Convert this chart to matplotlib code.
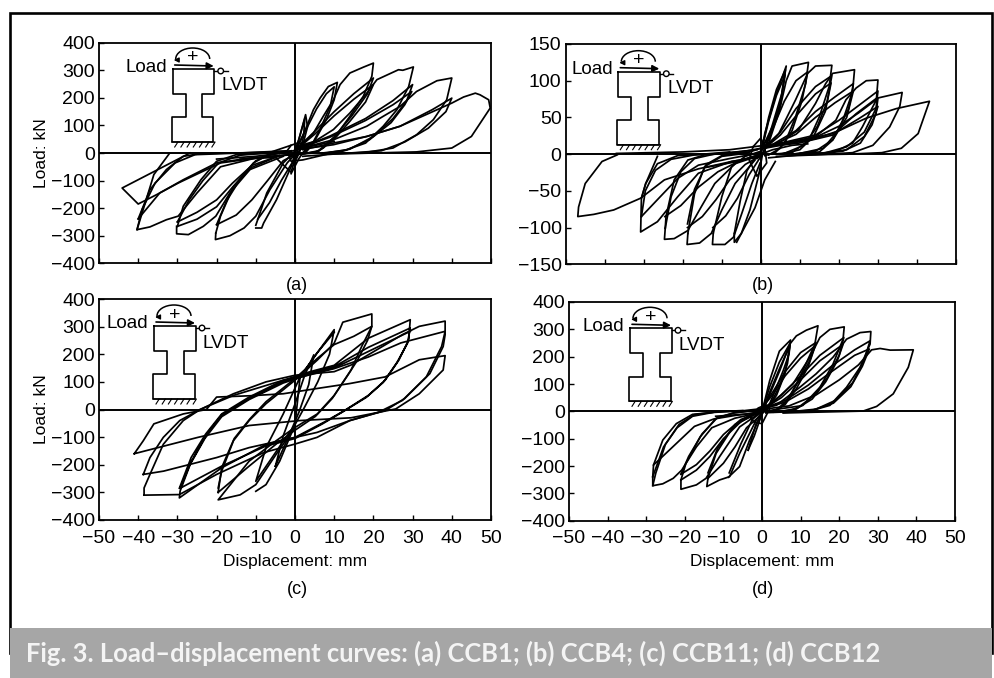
import matplotlib
matplotlib.use('Agg')
import matplotlib.pyplot as plt
from matplotlib.patches import Rectangle, Circle, Arc

plt.rcParams['font.family'] = ['Liberation Sans', 'DejaVu Sans']

# curves, each one a (displacement, load) path
loops_a = [
    [(0.4, 12), (9.8, 30), (18.3, 60), (26.8, 97), (35.3, 151), (40, 181), (43, 203), (46, 217), (47.2, 211), (49.4, 193), (49.8, 163), (45, 60), (40, 18), (31, 4), (22.5, 1), (9.8, -4), (2, -12)],
    [(1, 15), (9.8, 48), (18.3, 97), (22.5, 133), (26.8, 169), (31, 223), (36.2, 262), (40, 272), (38.7, 193), (35.3, 121), (31, 66), (25, 18), (18, 2), (9.8, -3)],
    [(2, 12), (9.8, 36), (18.3, 60), (26.8, 97), (35, 157), (40, 199), (38.5, 150), (34, 90), (28, 40), (22, 8), (14, 0)],
    [(0.8, 18), (5, 42), (9.8, 85), (14, 145), (18.3, 217), (20.9, 266), (26.4, 302), (27.5, 300), (30.2, 312), (29, 241), (26, 157), (22.5, 97), (18, 36), (12, 6), (7, -2)],
    [(1, 16), (9, 62), (18, 125), (25, 190), (30, 248), (28.5, 190), (25, 125), (20, 60), (14, 14), (8, 0)],
    [(1, 16), (9, 58), (18, 118), (25, 175), (29.8, 223), (28, 175), (24.5, 110), (19, 48), (13, 10), (7, 0)],
    [(0.8, 18), (4.7, 72), (7.2, 133), (9.8, 193), (11.5, 248), (14, 290), (17.4, 311), (20, 326), (19.6, 278), (17.4, 205), (14, 133), (10.6, 66), (7.2, 18), (4.7, 0), (1, -5)],
    [(0.5, 16), (5, 78), (10, 150), (15, 215), (20, 272), (18.5, 215), (14.5, 135), (10, 58), (6, 8), (2, -3)],
    [(0.5, 14), (5, 68), (10, 135), (15, 195), (20, 248), (18, 185), (14, 115), (10, 50), (6, 6), (2, -3)],
    [(0.8, 24), (3, 97), (4.7, 157), (6.4, 199), (8.5, 241), (10.8, 256), (10, 193), (8, 121), (4.7, 36), (3, 6), (0.5, -6)],
    [(0.4, 20), (3, 90), (5.5, 160), (8, 215), (10, 240), (9, 170), (6.5, 90), (4, 22), (1.5, -5)],
    [(-0.5, -10), (1, 50), (2.7, 139), (3.2, 95), (2, 30), (0.5, -15)],
    [(-0.4, -30), (0.8, 40), (2.5, 125), (2.2, 60), (1, 0), (-0.4, -45)],
    [(-26.8, 0), (-44.1, -127), (-40, -185), (-35.3, -151), (-29.8, -109), (-19, -36), (-8, -15), (-0.5, -5)],
    [(-32, -1), (-36, -78), (-40.3, -278), (-37, -268), (-32.8, -242), (-29.8, -229), (-25, -145), (-19, -50), (-10, -18), (-0.5, -5)],
    [(-40, -239), (-37, -133), (-32.8, -60), (-28.5, -12), (-24, -2), (-12, 1), (-1, 6)],
    [(-40.3, -278), (-39, -205), (-35.7, -109), (-30.6, -36), (-25.5, -6), (-14, 0), (-2, 8)],
    [(-40, -239), (-34.5, -145), (-28.5, -97), (-20, -36), (-11.5, -18), (-0.4, -6)],
    [(-30.2, -266), (-30.2, -293), (-27.2, -296), (-23.4, -266), (-20.2, -229), (-16.6, -145), (-11.5, -60), (-3, -12)],
    [(-30, -266), (-28.5, -193), (-24, -97), (-20, -30), (-15, -6), (-7, 0), (-1, 6)],
    [(-30, -250), (-27, -170), (-23.5, -100), (-19.5, -36), (-14, -8), (-7, 0)],
    [(-30, -250), (-25, -215), (-20, -170), (-16, -110), (-11, -45), (-4, -10)],
    [(-30, -266), (-25, -240), (-20, -195), (-16, -125), (-11, -52), (-4, -10)],
    [(-20.2, -290), (-20.3, -314), (-16.6, -300), (-13, -272), (-10, -229), (-6.4, -133), (-2, -36), (0, -5)],
    [(-20.2, -290), (-19, -229), (-15.7, -121), (-10.6, -36), (-7, -8), (-1, 6)],
    [(-20, -260), (-17.5, -175), (-14, -95), (-10, -28), (-6, -5), (-1, 8)],
    [(-20, -260), (-15, -225), (-11, -170), (-7, -100), (-3, -28), (0, -5)],
    [(-10, -272), (-8.5, -272), (-8, -254), (-4.7, -169), (-1, -50), (0.5, 20)],
    [(-10, -262), (-7.2, -145), (-3, -36), (-1, -8), (1, 22)],
    [(-9.5, -240), (-6.5, -180), (-3.5, -100), (-0.5, -30), (1, 20)],
    [(-14, -22), (-5, -16), (-1, -70), (0, -20), (2, 30), (5, 42)],
    [(-6, 4), (-1, 28), (1, 38), (3, 20), (1, -20), (-1, -75)],
    [(-1, 28), (-2, 8), (-1, -30), (2, -25), (8, -5)],
    [(-20, -22), (-10, -12), (-2, 2), (2, 18), (10, 42)],
]

loops_b = [
    [(-37, 1), (-20, 3), (-8, 6), (1, 12), (9.7, 18), (18.4, 28), (27, 49), (34.7, 62), (43.2, 72), (40.3, 28), (36, 8), (31, 2), (22.4, 0), (10, -1), (2, -5)],
    [(1, 10), (9.7, 15), (18.4, 26), (24.4, 55), (29.6, 76), (36.2, 84), (35.6, 65), (33, 37), (28.7, 12), (23.5, 2), (14, -1), (4, -3)],
    [(0.5, 8), (14, 24), (19.2, 46), (21.8, 74), (24.4, 90), (27, 100), (30, 101), (29.6, 74), (26, 37), (23.5, 15), (18.4, 2), (10, 0)],
    [(1, 10), (14, 26), (20, 46), (25, 66), (30, 86), (29.5, 62), (26.5, 30), (22, 10), (16, 1), (8, 0)],
    [(1, 9), (14, 23), (20, 38), (25, 56), (30, 76), (29.5, 55), (26.5, 24), (22, 6), (15, 1)],
    [(1, 8), (14, 21), (20, 32), (25, 48), (30, 65), (28.5, 40), (25.5, 15), (21, 4), (14, 0)],
    [(3.7, 12), (9.7, 33), (14, 69), (16.6, 96), (18.4, 110), (24, 115), (23.5, 85), (21, 46), (18.4, 19), (15, 3), (8, 0)],
    [(2, 10), (9, 32), (14, 58), (19, 78), (23.7, 96), (22.5, 62), (19.5, 30), (16, 8), (10, 1)],
    [(2, 10), (9, 27), (14, 50), (19, 70), (23.7, 86), (22, 50), (18.5, 20), (14, 4), (8, 0)],
    [(1, 10), (4.6, 28), (8.9, 74), (12, 110), (14, 120), (18.2, 121), (17.5, 92), (15, 51), (12.3, 19), (8, 2), (3, 0)],
    [(1, 8), (5, 30), (9, 62), (14, 92), (18.2, 107), (17, 72), (14.5, 38), (11, 12), (6, 1)],
    [(1, 8), (5, 26), (9, 52), (14, 82), (18, 97), (16.5, 58), (13.5, 24), (10, 6), (5, 0)],
    [(0.7, 12), (3, 38), (5, 65), (6.5, 100), (8, 120), (12.2, 125), (11.5, 96), (8.9, 51), (6.3, 17), (3.7, 2), (1, -2)],
    [(0.5, 10), (3, 34), (6, 72), (9, 100), (12, 112), (10.5, 72), (8, 32), (5, 8), (2, -1)],
    [(0.3, 6), (1, 28), (3.7, 78), (6.5, 120), (5.4, 83), (2.8, 37), (0.7, 3), (-1, -6)],
    [(0.3, 8), (2, 50), (4, 88), (6.3, 115), (5, 70), (2.4, 25), (0.4, 0)],
    [(0.2, 6), (2, 45), (4, 80), (6.2, 108), (4.8, 60), (2, 15), (0, -3)],
    [(-36.8, -1), (-40.7, -10), (-45, -40), (-46.7, -72), (-46.9, -85), (-42.8, -82), (-37.7, -76), (-30.8, -60), (-24.7, -35), (-16, -20), (-7.5, -10), (-0.6, -4)],
    [(-26.5, -3), (-29.5, -40), (-30.6, -60), (-30.8, -106), (-26.5, -92), (-21.3, -58), (-16, -26), (-7.5, -10), (0, -3)],
    [(-30.6, -60), (-29.5, -40), (-26.5, -13), (-21.3, -2), (-10, 1), (-1, 6)],
    [(-30.6, -85), (-26.5, -62), (-21.3, -33), (-16, -15), (-8, -6), (0, 2)],
    [(-30.6, -85), (-29.6, -50), (-27, -22), (-23, -7), (-17, -1), (-8, 3)],
    [(-24.5, -101), (-24.7, -116), (-22.2, -115), (-18.7, -104), (-15.3, -72), (-11.8, -40), (-6.6, -13), (-1, -3)],
    [(-24.5, -101), (-24.3, -85), (-22.2, -35), (-18.7, -8), (-14.4, -1), (-6, 2), (0, 8)],
    [(-24.6, -85), (-20.5, -70), (-16, -45), (-11, -24), (-5, -8), (0, 0)],
    [(-24.5, -101), (-23, -58), (-20.5, -24), (-17, -6), (-12, 0), (-4, 4)],
    [(-18.7, -108), (-18.9, -123), (-15.7, -121), (-12.7, -108), (-10, -76), (-6.6, -40), (-1.5, -8)],
    [(-18.7, -108), (-17, -54), (-14.4, -17), (-10, -3), (-4, 1), (0, 8)],
    [(-18.8, -100), (-15, -85), (-11.5, -62), (-8, -35), (-4, -14), (0, -2)],
    [(-18.8, -95), (-17, -48), (-14, -14), (-10, -2), (-3, 3)],
    [(-12.2, -108), (-12.4, -123), (-9.2, -123), (-7, -113), (-4.9, -81), (-2.3, -40), (-0.2, -12)],
    [(-12.2, -108), (-10, -58), (-7.5, -17), (-4, -3), (0, 4)],
    [(-12.3, -100), (-9, -84), (-6, -60), (-3, -28), (0, -3)],
    [(-6.8, -108), (-6.8, -120), (-5, -108), (-2.8, -76), (-0.6, -30), (0.5, 2)],
    [(-6.8, -108), (-5.3, -64), (-3.6, -23), (-1.5, -5), (1, 10)],
    [(3.7, -10), (1, -35), (-1.5, -73), (-6.2, -120)],
    [(-2, 10), (0, 22), (1, 10), (1.5, -12), (-1, -30), (-3, -8), (-2, 10)],
    [(-14, -18), (-6, -10), (-1, -2), (3, 6), (8, 12), (12, 14)],
]

loops_c = [
    [(-38.5, -310), (-38.5, -284), (-37, -235), (-33.6, -126), (-28.5, -40), (-24.2, 0), (-15.7, 57), (-7.4, 100), (0, 124), (10, 137), (14.3, 161), (18.7, 198), (23, 234), (27.4, 271), (31.7, 301), (38.3, 320), (38.3, 271), (37.8, 228), (34.4, 130), (28, 40), (23, -4), (14, -40), (5.6, -101), (0, -125), (-8, -156), (-20, -235), (-29.5, -308), (-38.5, -310)],
    [(-38.7, -235), (-37, -174), (-33.6, -101), (-29.4, -40), (-24.2, 0), (-15.7, 51), (-3, 106), (0, 112), (10, 148), (18.7, 190), (27, 241), (38.3, 283), (37.4, 228), (33.5, 118), (27.4, 33), (21.3, -10), (14, -40), (5.6, -83), (0, -101), (-11.7, -138), (-20, -174), (-33.5, -223), (-38.7, -235)],
    [(-41, -160), (-38.7, -113), (-36, -52), (-28.5, -16), (-22.6, 0), (-20, 45), (-11, 50), (-3, 57), (5.6, 76), (14, 94), (23, 118), (31.7, 180), (38.3, 195), (37.8, 143), (31.7, 57), (25.7, 2), (14.3, -30), (1.3, -40), (-11.7, -58), (-24.8, -101), (-41, -160)],
    [(-29.5, -285), (-26.5, -174), (-22.8, -89), (-18.7, -16), (-11.7, 45), (-3, 106), (3.9, 137), (10, 160), (18.7, 258), (29.4, 325), (29, 252), (26.5, 179), (23, 106), (18.7, 51), (12.6, -4), (7.4, -46), (0, -101), (-7.4, -126), (-18.7, -211), (-29.5, -320), (-29.3, -295), (-26.5, -190), (-22.8, -95), (-18.7, -20), (-11.7, 40), (-3, 100), (3.9, 132), (10, 155), (18.7, 225), (29.4, 295), (28.7, 240), (26, 170), (22.5, 98), (18.2, 44), (12, -10), (7, -52), (0, -105), (-7.4, -132), (-18.7, -205), (-29.3, -285), (-27, -205), (-23, -105), (-18.7, -26), (-11.7, 36), (-3, 96), (3.9, 128), (10, 150), (18.7, 210), (29.4, 283)],
    [(-19.6, -284), (-18.7, -223), (-15.7, -113), (-11.7, -40), (-7.4, 21), (0, 106), (5.7, 179), (10, 240), (12.2, 316), (19.6, 346), (19.6, 301), (17, 228), (14.3, 143), (10, 51), (5.7, -16), (0, -65), (-4.8, -113), (-11.7, -187), (-19.6, -327), (-14, -309), (-10, -272), (-4.8, -162), (0, -65)],
    [(-19.6, -300), (-18.7, -210), (-15.5, -105), (-11.5, -34), (-7.4, 28), (0, 112), (5.7, 185), (10, 235), (15, 265), (19.6, 301), (18.5, 250), (16, 180), (13.5, 125), (9.5, 40), (5.2, -25), (0, -75), (-4.8, -125), (-11.7, -205), (-19.6, -300)],
    [(-10, -296), (-7.4, -272), (-3.9, -187), (0, -55), (1.3, 118), (5.6, 204), (10, 289), (8.8, 200), (5.8, 100), (2.5, 10), (0, -55), (-3, -115), (-10, -260), (-7.4, -138), (-3, -16), (1.3, 118), (5.6, 204), (10, 280)],
    [(-5, -205), (-3, -95), (0, 20), (2.5, 125), (4.8, 198), (3.5, 90), (1, -10), (-2, -110), (-5, -205)],
]

loops_d = [
    [(-1, 5), (7, 20), (14, 60), (20, 115), (25, 170), (28.4, 225), (30.6, 230), (33.2, 224), (39.2, 225), (37.9, 161), (34, 64), (29.7, 18), (26.2, 1), (14, -3), (5.5, -6)],
    [(1, 15), (3.7, 22), (9.8, 88), (14, 137), (18.4, 198), (21.9, 264), (25.4, 288), (28.2, 292), (28, 246), (25.4, 161), (21.9, 88), (17.6, 22), (12.4, 1), (5.5, -4)],
    [(0.5, 12), (6, 40), (12, 96), (18, 165), (24, 225), (28, 258), (26.5, 190), (23.5, 105), (19, 40), (14, 8), (7, -2)],
    [(0.5, 10), (6, 34), (12, 82), (18, 145), (24, 205), (27.8, 228), (26, 165), (23, 90), (18.5, 30), (13, 4), (6, -3)],
    [(1, 8), (8, 100), (12.4, 198), (15, 270), (17.6, 300), (21.3, 309), (21, 264), (18.4, 173), (15, 88), (10.6, 22), (6.3, -2), (1, -5)],
    [(0.5, 12), (5, 60), (10, 130), (15, 205), (21.2, 270), (20, 205), (17, 125), (13.5, 58), (9, 10), (4, -2)],
    [(0.5, 10), (5, 50), (10, 115), (15, 185), (21, 245), (19.5, 185), (16.5, 108), (13, 45), (8.5, 6), (3, -3)],
    [(0.6, 15), (4.6, 149), (7.2, 246), (8.9, 276), (11.5, 297), (14.5, 313), (13.7, 246), (10.6, 149), (7.2, 52), (4.6, 10), (1, -5)],
    [(0.4, 20), (3, 75), (6, 145), (10, 215), (14, 252), (12.5, 190), (9.5, 110), (6.3, 38), (3.5, 2)],
    [(0.3, 18), (3, 65), (6, 130), (10, 195), (13.8, 240), (12, 165), (9, 85), (6, 25), (3, 0)],
    [(0.3, 15), (2, 113), (4.5, 220), (7.4, 261), (7, 210), (5.5, 149), (2, 28), (0, -8)],
    [(0.2, 10), (2, 90), (4.5, 180), (7.3, 250), (6.6, 175), (4.5, 90), (1.5, 10), (0, -8)],
    [(0.2, 8), (2, 70), (4.5, 155), (7.2, 240), (6, 140), (3.8, 60), (1.2, 5)],
    [(-28.1, -196), (-25.7, -105), (-22.2, -45), (-18, -11), (-12.8, -4), (-5, 2), (0, 10)],
    [(-28.3, -239), (-28.3, -272), (-25.7, -265), (-23, -245), (-20.8, -215), (-17, -130), (-13, -60), (-7, -25), (0, -3)],
    [(-28.3, -239), (-28.1, -196), (-25, -155), (-22, -115), (-17.5, -55), (-12.5, -28), (-7, -15), (-0.5, -3)],
    [(-28.3, -239), (-25.5, -130), (-22, -60), (-18, -18), (-12, -2), (-5, 3)],
    [(-28.3, -272), (-27.5, -225), (-25, -120), (-21.5, -48), (-17.5, -12), (-12, -2)],
    [(-21, -251), (-21, -285), (-17, -269), (-14.5, -245), (-11, -166), (-5.8, -57), (-0.5, -5)],
    [(-21, -251), (-19.7, -190), (-16, -93), (-12, -27), (-7.5, -6), (0, 5)],
    [(-21, -230), (-19, -165), (-15.5, -82), (-11.5, -22), (-7, -5), (0, 8)],
    [(-21, -251), (-17, -215), (-13.5, -165), (-10, -100), (-5.5, -38), (-0.5, -3)],
    [(-21, -230), (-17, -195), (-13.5, -145), (-10, -85), (-5.5, -30), (-0.5, -2)],
    [(-14, -245), (-14.3, -275), (-11, -251), (-8.4, -239), (-5.8, -154), (-1.5, -32), (0.3, 5)],
    [(-14, -245), (-11.9, -154), (-7.5, -57), (-2.3, -10), (0.5, 10)],
    [(-14, -225), (-11.5, -135), (-7, -48), (-2.5, -8), (0.5, 10)],
    [(-14, -245), (-10, -190), (-7, -130), (-4, -60), (0, -10)],
    [(-8.7, -241), (-5.8, -202), (-3.2, -105), (-0.6, -22), (0.4, 5)],
    [(-8.5, -225), (-5.5, -120), (-2.5, -30), (0.5, 8)],
    [(-3.6, -142), (-2, -90), (-0.4, -25), (0.5, 8)],
    [(-3.6, -142), (-1.5, -45), (0, -10)],
    [(-3, -22), (-1, 12), (1, 24), (2, 10), (0, -45), (-2, -40), (-3, -22)],
    [(-12, -18), (-4, -10), (0, -2), (4, 8), (10, 20)],
]

x_ticks = [-50, -40, -30, -20, -10, 0, 10, 20, 30, 40, 50]
y_ticks_kn = [-400, -300, -200, -100, 0, 100, 200, 300, 400]
y_ticks_b = [-150, -100, -50, 0, 50, 100, 150]
panel_names = ['(a)', '(b)', '(c)', '(d)']
caption = 'Fig. 3. Load–displacement curves: (a) CCB1; (b) CCB4; (c) CCB11; (d) CCB12'

W, H = 994, 678
fig = plt.figure(figsize=(W / 100, H / 100), dpi=100)

# full figure layer in pixel coordinates for frame, band and the little specimen sketch
bg = fig.add_axes([0, 0, 1, 1], zorder=0)
bg.set_xlim(0, W)
bg.set_ylim(H, 0)
bg.axis('off')
bg.add_patch(Rectangle((10, 13), 982, 640, fc='none', ec='k', lw=1.9))
bg.add_patch(Rectangle((10, 628), 982, 50, fc='#a6a6a6', ec='none', zorder=3))
bg.text(26, 653, caption, family=['Lato', 'DejaVu Sans'], weight='bold', color='#f4f4f4',
        fontsize=18.4, va='center', ha='left', zorder=4)


def sketch(x0, y0):
    xs = [x0, x0 + 41.7, x0 + 41.7, x0 + 29.7, x0 + 29.7, x0 + 40.7, x0 + 40.7, x0 - 1, x0 - 1, x0 + 13, x0 + 13, x0, x0]
    ys = [y0, y0, y0 + 25, y0 + 25, y0 + 48.3, y0 + 48.3, y0 + 73, y0 + 73, y0 + 48.3, y0 + 48.3, y0 + 25, y0 + 25, y0]
    ov.plot(xs, ys, 'k-', lw=1.2)
    for i in range(7):
        hx = x0 - 1 + i * 6.2
        ov.plot([hx, hx + 6.2, hx + 3], [y0 + 73, y0 + 73, y0 + 78], 'k-', lw=0.8)
    ov.annotate('', xy=(x0 + 41, y0 - 3), xytext=(x0 + 2, y0 - 4),
                arrowprops=dict(arrowstyle='-|>', color='k', lw=1.2, mutation_scale=10, shrinkA=0, shrinkB=0))
    ov.add_patch(Arc((x0 + 20, y0 - 10), 34, 22, theta1=180, theta2=360, lw=1.1, ec='k'))
    ov.annotate('', xy=(x0 + 1, y0 - 9), xytext=(x0 + 5, y0 - 9),
                arrowprops=dict(arrowstyle='-|>', color='k', lw=1, mutation_scale=7, shrinkA=0, shrinkB=0))
    ov.plot([x0 + 41.7, x0 + 55], [y0 + 2, y0 + 2], 'k-', lw=1)
    ov.add_patch(Circle((x0 + 48, y0 + 2), 2.8, fc='w', ec='k', lw=1, zorder=5))
    ov.text(x0 + 20.5, y0 - 11, '+', fontsize=14, ha='center', va='center')
    ov.text(x0 - 5.5, y0 - 2, 'Load', fontsize=13.5, ha='right', va='center')
    ov.text(x0 + 49, y0 + 17, 'LVDT', fontsize=13.5, ha='left', va='center')


boxes = [(99, 491, 42.7, 263.3), (565.7, 956, 44, 264.3), (99, 491, 299, 520), (569, 955, 302, 520.7)]
all_loops = [loops_a, loops_b, loops_c, loops_d]
for k, (l, r, t, b) in enumerate(boxes):
    ax = fig.add_axes([l / W, 1 - b / H, (r - l) / W, (b - t) / H], zorder=1)
    ax.patch.set_alpha(0)
    for path in all_loops[k]:
        ax.plot([p[0] for p in path], [p[1] for p in path], 'k-', lw=1.25, solid_joinstyle='round')
    ax.axhline(0, color='k', lw=1.4)
    ax.axvline(0, color='k', lw=1.4)
    ax.set_xlim(-50, 50)
    ax.set_xticks(x_ticks)
    if k == 1:
        ax.set_ylim(-150, 150)
        ax.set_yticks(y_ticks_b)
    else:
        ax.set_ylim(-400, 400)
        ax.set_yticks(y_ticks_kn)
    ax.tick_params(direction='in', length=3.5, width=1, labelsize=14, pad=3)
    ax.tick_params(axis='x', pad=7)
    if k < 2:
        ax.tick_params(labelbottom=False)
    else:
        ax.set_xlabel('Displacement: mm', fontsize=12.5, labelpad=5)
    if k in (0, 2):
        ax.set_ylabel('Load: kN', fontsize=12.5, labelpad=1)
    for s in ax.spines.values():
        s.set_linewidth(1.3)

ov = fig.add_axes([0, 0, 1, 1], zorder=2)
ov.set_xlim(0, W)
ov.set_ylim(H, 0)
ov.axis('off')
sketch(172.7, 69)
sketch(618.3, 71.7)
sketch(154, 326)
sketch(630, 328.3)
name_pos = [(297, 285), (763, 285), (297, 590), (763, 590)]
for (nx, ny), name in zip(name_pos, panel_names):
    ov.text(nx, ny, name, fontsize=13, ha='center', va='center')

fig.savefig('out.png', dpi=100)
